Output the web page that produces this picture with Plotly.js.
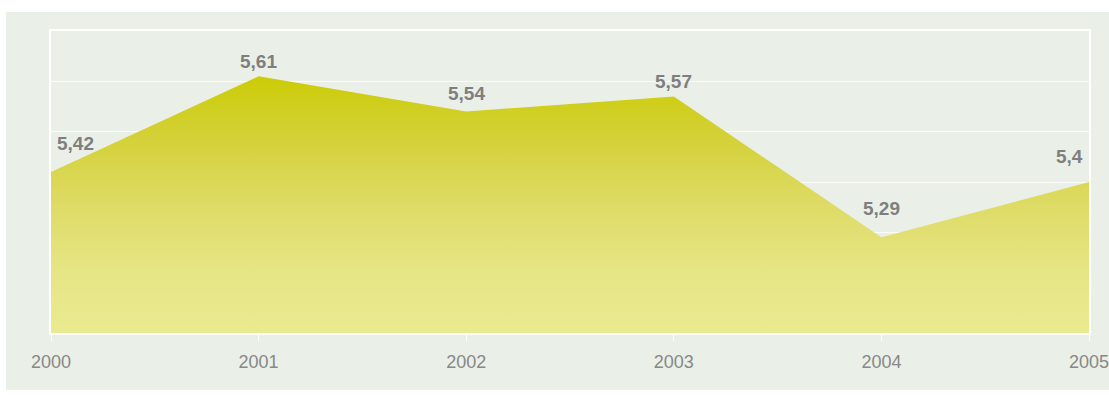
<!DOCTYPE html>
<html>
<head>
<meta charset="utf-8">
<script src="https://cdn.plot.ly/plotly-3.0.1.min.js"></script>
<style>
  html, body { margin: 0; padding: 0; background: #ffffff; width: 1109px; height: 398px; overflow: hidden; }
  #frame { position: absolute; left: 6px; top: 12px; width: 1103px; height: 378px; background: #eaf0e7; }
  #chart { width: 1103px; height: 378px; }
</style>
</head>
<body>
<div id="frame"><div id="chart"></div></div>
<script>
var years = [2000, 2001, 2002, 2003, 2004, 2005];
var values = [5.42, 5.61, 5.54, 5.57, 5.29, 5.40];
var tickLabels = ['2000', '2001', '2002', '2003', '2004', '2005'];

function fmt(v) { return String(v).replace('.', ','); }

var W = 1103, H = 378;
var M = { l: 45, r: 20, t: 19, b: 57 };
var yRange = [5.1, 5.7];
var xRange = [2000, 2005];
var pxPerYear = (W - M.l - M.r) / (xRange[1] - xRange[0]);
var pxPerUnit = (H - M.t - M.b) / (yRange[1] - yRange[0]);

var trace = {
  x: years,
  y: values,
  type: 'scatter',
  mode: 'none',
  fill: 'tozeroy',
  fillgradient: {
    type: 'vertical',
    start: 5.1,
    stop: 5.61,
    colorscale: [
      [0, '#eaea90'],
      [0.25, '#e6e584'],
      [0.5, '#dedb66'],
      [0.75, '#d4d13a'],
      [1, '#cccc06']
    ]
  },
  hoverinfo: 'none'
};

// label lift: clear the line within the label's half width
var halfLabel = 20;
var annotations = values.map(function (v, i) {
  var anchor = 'center', xs = 0, ys;
  if (i === 0) { anchor = 'left'; xs = 4; ys = 28; }
  else if (i === values.length - 1) { anchor = 'right'; xs = -4; ys = 26; }
  else {
    var riseL = (values[i - 1] - v) * (halfLabel / pxPerYear) * pxPerUnit;
    var riseR = (values[i + 1] - v) * (halfLabel / pxPerYear) * pxPerUnit;
    ys = 15 + Math.max(0, riseL, riseR);
  }
  return {
    x: years[i], y: v, xref: 'x', yref: 'y',
    text: '<b>' + fmt(v) + '</b>',
    showarrow: false,
    xanchor: anchor, yanchor: 'middle',
    xshift: xs, yshift: ys,
    font: { family: 'Liberation Sans, Arial, sans-serif', size: 19, color: '#7f7f7f' }
  };
});

var layout = {
  width: W,
  height: H,
  margin: M,
  paper_bgcolor: 'rgba(0,0,0,0)',
  plot_bgcolor: '#eaf0e7',
  showlegend: false,
  xaxis: {
    range: xRange,
    tickvals: years,
    ticktext: tickLabels,
    showgrid: false,
    zeroline: false,
    showline: true,
    mirror: true,
    linecolor: '#ffffff',
    linewidth: 2,
    ticks: 'outside',
    ticklen: 6,
    tickwidth: 1,
    tickcolor: '#ffffff',
    ticklabelstandoff: 5,
    ticklabeloverflow: 'allow',
    tickfont: { family: 'Liberation Sans, Arial, sans-serif', size: 18, color: '#888888' },
    fixedrange: true
  },
  yaxis: {
    range: yRange,
    dtick: 0.1,
    tick0: 5.1,
    showticklabels: false,
    showgrid: true,
    gridcolor: '#fbfcf9',
    gridwidth: 1,
    zeroline: false,
    showline: true,
    mirror: true,
    linecolor: '#ffffff',
    linewidth: 2,
    ticks: '',
    fixedrange: true
  },
  annotations: annotations
};

Plotly.newPlot('chart', [trace], layout, { displayModeBar: false, staticPlot: true });
</script>
</body>
</html>
